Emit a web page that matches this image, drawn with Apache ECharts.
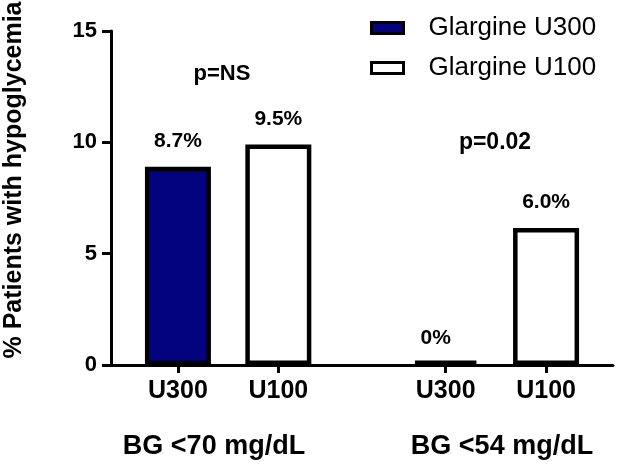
<!DOCTYPE html>
<html>
<head>
<meta charset="utf-8">
<script src="https://cdn.jsdelivr.net/npm/echarts@6/dist/echarts.min.js"></script>
<style>
html,body{margin:0;padding:0;background:#fff;}
#chart{width:618px;height:469px;}
</style>
</head>
<body>
<div id="chart"></div>
<script>
// ---- data ----
const categories = ['U300', 'U100'];
const groups = ['BG <70 mg/dL', 'BG <54 mg/dL'];
const seriesNames = ['Glargine U300', 'Glargine U100'];
const u300Values = [8.9, 0];
const u100Values = [9.9, 6.15];
const u300Labels = ['8.7%', '0%'];
const u100Labels = ['9.5%', '6.0%'];
const pLabels = ['p=NS', 'p=0.02'];
const yTicks = [0, 5, 10, 15];

// ---- layout (slot grid on category axis) ----
const SLOT_COUNT = 16;
function slotOf(g, c) { return 2 + g * 8 + c * 3; }

const xData = new Array(SLOT_COUNT).fill('');
groups.forEach((g, gi) => categories.forEach((c, ci) => { xData[slotOf(gi, ci)] = c; }));

function buildSeriesData(values, labels, catIndex) {
  const arr = new Array(SLOT_COUNT).fill('-');
  values.forEach((v, gi) => {
    const item = { value: v, labelText: labels[gi] };
    if (v === 0) item.label = { offset: [-10, 3] };
    arr[slotOf(gi, catIndex)] = item;
  });
  return arr;
}

const FONT = 'Liberation Sans, Arial, Helvetica, sans-serif';
const labelStyle = {
  show: true, position: 'top', distance: 15,
  fontFamily: FONT, fontWeight: 'bold', fontSize: 21, color: '#000',
  formatter: p => p.data && p.data.labelText
};

const chart = echarts.init(document.getElementById('chart'), null, { renderer: 'canvas' });
chart.setOption({
  animation: false,
  backgroundColor: '#fff',
  grid: { left: 111, right: 5, top: 31, bottom: 104, containLabel: false, outerBoundsMode: 'none' },
  legend: {
    data: seriesNames,
    orient: 'vertical', left: 365, top: 10,
    icon: 'rect', itemWidth: 32, itemHeight: 11, itemGap: 14,
    itemStyle: { borderWidth: 3, borderColor: '#000' },
    textStyle: { fontFamily: FONT, fontSize: 26, color: '#000', padding: [0, 0, 0, 20] }
  },
  xAxis: {
    type: 'category', data: xData, boundaryGap: false,
    axisLine: { lineStyle: { color: '#000', width: 3 } },
    axisTick: { length: 8, lineStyle: { color: '#000', width: 3 }, interval: (i, v) => v !== '' },
    axisLabel: { interval: (i, v) => v !== '', margin: 14, fontFamily: FONT, fontWeight: 'bold', fontSize: 25, color: '#000' },
    splitLine: { show: false }
  },
  yAxis: {
    type: 'value', min: yTicks[0], max: yTicks[yTicks.length - 1], interval: yTicks[1] - yTicks[0],
    axisLine: { show: true, lineStyle: { color: '#000', width: 3 } },
    axisTick: { show: true, length: 9, lineStyle: { color: '#000', width: 3 } },
    axisLabel: { margin: 14, fontFamily: FONT, fontWeight: 'bold', fontSize: 22, color: '#000' },
    splitLine: { show: false }
  },
  series: [
    {
      name: seriesNames[0], type: 'bar', barWidth: 66, barGap: '-100%', barMinHeight: 4.5,
      itemStyle: { color: '#03037f', borderColor: '#000', borderWidth: 4.5 },
      label: labelStyle,
      data: buildSeriesData(u300Values, u300Labels, 0)
    },
    {
      name: seriesNames[1], type: 'bar', barWidth: 66, barGap: '-100%', barMinHeight: 4.5,
      itemStyle: { color: '#fff', borderColor: '#000', borderWidth: 4.5 },
      label: labelStyle,
      data: buildSeriesData(u100Values, u100Labels, 1)
    }
  ],
  graphic: [
    { type: 'text', x: 14, y: 180, rotation: Math.PI / 2,
      style: { text: '% Patients with hypoglycemia', fontFamily: FONT, fontWeight: 'bold', fontSize: 25, fill: '#000', align: 'center', verticalAlign: 'middle' } },
    { type: 'text', x: 222, y: 74,
      style: { text: pLabels[0], fontFamily: FONT, fontWeight: 'bold', fontSize: 22, fill: '#000', align: 'center', verticalAlign: 'middle' } },
    { type: 'text', x: 495, y: 143,
      style: { text: pLabels[1], fontFamily: FONT, fontWeight: 'bold', fontSize: 23, fill: '#000', align: 'center', verticalAlign: 'middle' } },
    { type: 'text', x: 214, y: 447,
      style: { text: groups[0], fontFamily: FONT, fontWeight: 'bold', fontSize: 27, fill: '#000', align: 'center', verticalAlign: 'middle' } },
    { type: 'text', x: 502, y: 447,
      style: { text: groups[1], fontFamily: FONT, fontWeight: 'bold', fontSize: 27, fill: '#000', align: 'center', verticalAlign: 'middle' } }
  ]
});
</script>
</body>
</html>
